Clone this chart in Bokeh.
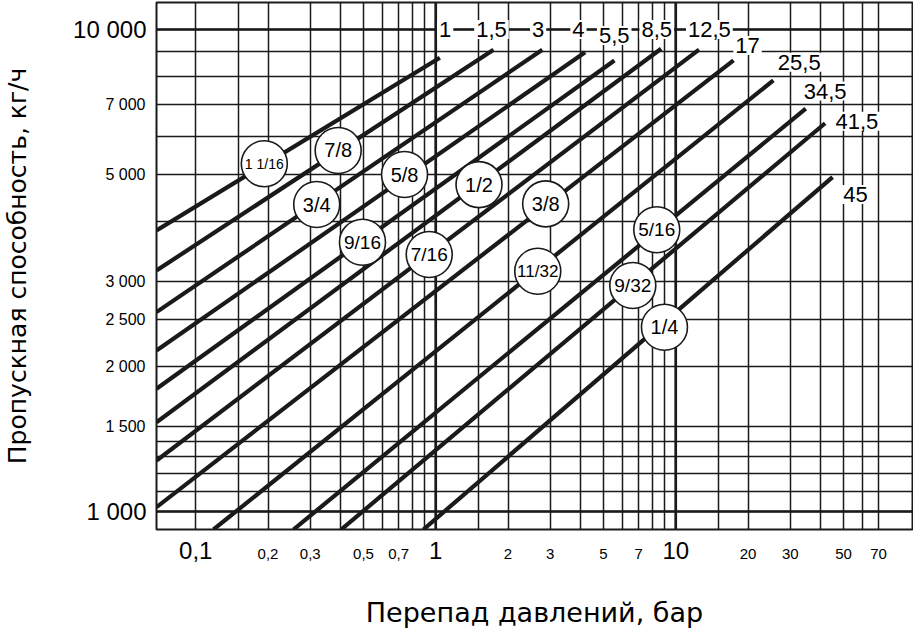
from bokeh.plotting import figure
from bokeh.models import (FixedTicker, Label, Span, ColumnDataSource, CustomJSTickFormatter,
                          LogAxis)
from bokeh.embed import file_html
from bokeh.resources import INLINE
from bokeh.core.properties import value

# ---------------- data ----------------
sizes = ["1 1/16", "7/8", "3/4", "5/8", "9/16", "1/2", "7/16", "3/8", "11/32", "5/16", "9/32", "1/4"]
max_dp = ["1", "1,5", "3", "4", "5,5", "8,5", "12,5", "17", "25,5", "34,5", "41,5", "45"]

dp_start = [0.0686, 0.0686, 0.0686, 0.0686, 0.0686, 0.0686, 0.0686, 0.0686, 0.1185, 0.2553, 0.4036, 0.888]
flow_start = [3830, 3162, 2592, 2158, 1798, 1532, 1276, 1021, 917.6, 917.6, 917.6, 917.6]
dp_end = [1.04, 1.74, 2.78, 4.19, 5.55, 8.69, 12.5, 17.4, 25.5, 34.8, 41.9, 45.0]
flow_end = [8740, 9080, 9080, 8970, 8625, 9120, 9080, 8625, 7840, 6850, 6390, 4940]

# circle markers with pipe sizes (position on the line)
circle_dp = [0.193, 0.392, 0.319, 0.741, 0.495, 1.514, 0.939, 2.87, 2.66, 8.33, 6.62, 8.97]
circle_flow = [5265, 5610, 4334, 5002, 3620, 4766, 3414, 4348, 3151, 3841, 2944, 2411]
circle_font = ["14px", "20px", "20px", "20px", "19px", "20px", "19px", "20px", "17px", "19px", "19px", "20px"]

# labels of the maximum pressure drop near the line ends
top_dp = [1.094, 1.706, 2.67, 3.93, 5.54, 8.33, 13.8, 19.9, 32.7, 41.9, 56.8, 56.1]
top_flow = [10000, 10000, 10000, 10000, 9718, 10000, 10000, 9264, 8552, 7450, 6454, 4547]

x_small_ticks = [0.2, 0.3, 0.5, 0.7, 2, 3, 5, 7, 20, 30, 50, 70]
x_big_ticks = [0.1, 1, 10]
x_grid_other = [0.1, 0.15, 0.4, 0.6, 0.8, 0.9, 1, 1.5, 4, 6, 8, 9, 10, 15, 40, 60]

y_small_ticks = [1500, 2000, 2500, 3000, 5000, 7000]
y_big_ticks = [1000, 10000]
y_grid_other = [1000, 1100, 1200, 1300, 1400, 4000, 6000, 8000, 9000, 10000]

heavy_x = [1, 10]
heavy_y = [1000, 10000]

INK = "#1a1a1a"
NUM_FONT = "Liberation Sans"
TITLE_FONT = "DejaVu Sans"

p = figure(frame_width=756, frame_height=527,
           x_axis_type="log", y_axis_type="log",
           x_range=(0.0686, 96.9), y_range=(917.6, 11376),
           output_backend="svg", toolbar_location=None,
           min_border_left=150, min_border_right=1, min_border_top=2, min_border_bottom=101,
           background_fill_color="white", border_fill_color="white")
p.outline_line_color = INK
p.outline_line_width = 2

xt = FixedTicker(ticks=x_small_ticks, minor_ticks=x_grid_other)
yt = FixedTicker(ticks=y_small_ticks, minor_ticks=y_grid_other)
p.xaxis.ticker = xt
p.yaxis.ticker = yt
p.xgrid.ticker = xt
p.ygrid.ticker = yt

for g in (p.xgrid, p.ygrid):
    g.grid_line_color = INK
    g.grid_line_width = 1.5
    g.minor_grid_line_color = INK
    g.minor_grid_line_width = 1.5

x_fmt = CustomJSTickFormatter(code="return tick.toString().replace('.', ',');")
y_fmt = CustomJSTickFormatter(code="return tick.toString().replace(/\\B(?=(\\d{3})+(?!\\d))/g, ' ');")

# outer axes carrying the large decade labels and the titles
x_big = LogAxis(ticker=FixedTicker(ticks=x_big_ticks, minor_ticks=[]), formatter=x_fmt)
y_big = LogAxis(ticker=FixedTicker(ticks=y_big_ticks, minor_ticks=[]), formatter=y_fmt)
p.add_layout(x_big, "below")
p.add_layout(y_big, "left")

for ax in (p.xaxis[0], p.yaxis[0], x_big, y_big):
    ax.axis_line_color = None
    ax.major_tick_line_color = None
    ax.minor_tick_line_color = None
    ax.major_tick_out = 0
    ax.major_tick_in = 0
    ax.minor_tick_out = 0
    ax.minor_tick_in = 0
    ax.major_label_text_font = NUM_FONT
    ax.major_label_text_color = "black"
    ax.axis_label_text_font = TITLE_FONT
    ax.axis_label_text_font_style = "normal"
    ax.axis_label_text_color = "black"

p.xaxis[0].formatter = x_fmt
p.yaxis[0].formatter = y_fmt
p.xaxis[0].major_label_text_font_size = "15px"
p.yaxis[0].major_label_text_font_size = "16px"
p.xaxis[0].major_label_standoff = 19
p.yaxis[0].major_label_standoff = 11

x_big.major_label_text_font_size = "24px"
y_big.major_label_text_font_size = "24px"
x_big.major_label_standoff = -20
y_big.major_label_standoff = -44

x_big.axis_label = "Перепад давлений, бар"
x_big.axis_label_text_font_size = "27px"
x_big.axis_label_standoff = 35
y_big.axis_label = "Пропускная способность, кг/ч"
y_big.axis_label_text_font_size = "25px"
y_big.axis_label_standoff = 38

for v in heavy_x:
    p.add_layout(Span(location=v, dimension="height", line_color=INK, line_width=2.6, level="underlay"))
for v in heavy_y:
    p.add_layout(Span(location=v, dimension="width", line_color=INK, line_width=2.6, level="underlay"))

# characteristic lines
lines = ColumnDataSource(dict(x0=dp_start, y0=flow_start, x1=dp_end, y1=flow_end))
p.segment(x0="x0", y0="y0", x1="x1", y1="y1", source=lines,
          line_color=INK, line_width=4.2, line_cap="butt")

# size circles
circ = ColumnDataSource(dict(x=circle_dp, y=circle_flow, t=sizes, fs=circle_font))
p.scatter(x="x", y="y", source=circ, marker="circle", size=46,
          fill_color="white", line_color=INK, line_width=1.6)
p.text(x="x", y="y", text="t", source=circ, text_align="center", text_baseline="middle",
       text_font=value(NUM_FONT), text_font_size="fs", text_color="black")

# max pressure-drop labels
for x, y, t in zip(top_dp, top_flow, max_dp):
    p.add_layout(Label(x=x, y=y, text=t, text_align="center", text_baseline="middle",
                       text_font=NUM_FONT, text_font_size="22px", text_color="black",
                       background_fill_color="white", padding=2))

open("out.html", "w").write(file_html(p, INLINE))
